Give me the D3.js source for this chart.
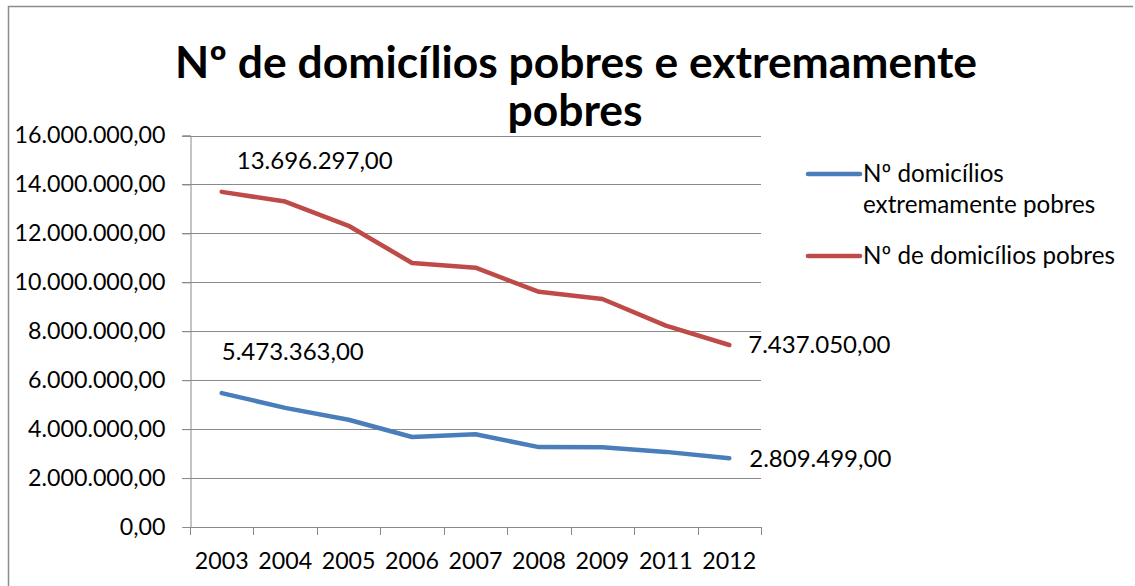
<!DOCTYPE html>
<html>
<head>
<meta charset="utf-8">
<script src="https://cdn.jsdelivr.net/npm/d3@7"></script>
<style>
  html, body { margin: 0; padding: 0; background: #fff; }
  text { font-family: Lato, "Open Sans", sans-serif; fill: #000; }
</style>
</head>
<body>
<svg id="chart" width="1135" height="586"></svg>
<script>
const years = ["2003", "2004", "2005", "2006", "2007", "2008", "2009", "2011", "2012"];
const extremos = [5473363, 4870000, 4385000, 3680000, 3790000, 3265000, 3260000, 3070000, 2809499];
const pobres = [13696297, 13300000, 12310000, 10790000, 10600000, 9610000, 9320000, 8230000, 7437050];
const yTicks = [0, 2000000, 4000000, 6000000, 8000000, 10000000, 12000000, 14000000, 16000000];
const seriesNames = ["Nº domicílios extremamente pobres", "Nº de domicílios pobres"];
const colors = ["#4A7EBB", "#BE4B48"];
const titleLines = ["Nº de domicílios pobres e extremamente", "pobres"];

const svg = d3.select("#chart");
const fmt = v => d3.formatLocale({decimal: ",", thousands: ".", grouping: [3], currency: ["", ""]}).format(",.2f")(v);

function fit(sel, target) {
  sel.each(function() {
    const fs = parseFloat(this.getAttribute("font-size"));
    const w = this.getComputedTextLength();
    if (w > 0) this.setAttribute("font-size", (fs * target / w).toFixed(2));
  });
}

// border
svg.append("path").attr("d", "M8.5,586 L8.5,6.5 L1133,6.5").attr("fill", "none").attr("stroke", "#8c8c8c").attr("stroke-width", 1.5);

const x = d3.scaleBand().domain(years).range([190, 761]);
const y = d3.scaleLinear().domain([0, 16000000]).range([527, 135.5]);

// gridlines
svg.append("g").selectAll("line").data(yTicks.slice(1)).join("line")
  .attr("x1", 182).attr("x2", 761)
  .attr("y1", d => Math.round(y(d)) + 0.5).attr("y2", d => Math.round(y(d)) + 0.5)
  .attr("stroke", "#8a8a8a").attr("stroke-width", 1);

// y axis
const yAxis = svg.append("g").attr("transform", "translate(190.5,0)")
  .call(d3.axisLeft(y).tickValues(yTicks).tickSize(8).tickPadding(17).tickFormat(fmt));
yAxis.select(".domain").attr("stroke", "#8a8a8a");
yAxis.selectAll(".tick line").attr("stroke", "#8a8a8a");
yAxis.selectAll(".tick text").attr("font-size", 20).attr("font-family", "Lato").attr("fill", "#000");

// x axis
const xAxis = svg.append("g").attr("transform", "translate(0,527.5)")
  .call(d3.axisBottom(x).tickSize(0).tickPadding(25));
xAxis.select(".domain").attr("stroke", "#8a8a8a").attr("d", "M190,0H761");
xAxis.selectAll(".tick text").attr("font-size", 20).attr("font-family", "Lato").attr("fill", "#000");
const bounds = years.map(d => x(d)).concat([x.range()[1]]);
svg.append("g").selectAll("line").data(bounds).join("line")
  .attr("x1", d => Math.round(d) + 0.5).attr("x2", d => Math.round(d) + 0.5)
  .attr("y1", 527).attr("y2", 535).attr("stroke", "#8a8a8a");

// lines
const cx = d => x(d) + x.bandwidth() / 2;
const line = d3.line().x((d, i) => cx(years[i])).y(d => y(d));
[extremos, pobres].forEach((s, k) => {
  svg.append("path").datum(s).attr("d", line).attr("fill", "none")
    .attr("stroke", colors[k]).attr("stroke-width", 4.5).attr("stroke-linecap", "round").attr("stroke-linejoin", "round");
});

// data labels
const labels = [
  {v: pobres[0], i: 0, dx: 15, dy: -23},
  {v: extremos[0], i: 0, dx: 0, dy: -33},
  {v: pobres[8], i: 8, dx: 19, dy: 8},
  {v: extremos[8], i: 8, dx: 20, dy: 9}
];
const dl = svg.append("g").selectAll("text").data(labels).join("text")
  .attr("x", d => cx(years[d.i]) + d.dx).attr("y", d => y(d.v) + d.dy)
  .attr("font-size", 20).text(d => fmt(d.v));
fit(dl.filter((d, i) => i === 0), 156);
dl.attr("font-size", dl.filter((d, i) => i === 0).attr("font-size"));

// legend
const leg = svg.append("g");
const legTexts = [];
[[174, 182, ["Nº domicílios", "extremamente pobres"]], [256, 264, ["Nº de domicílios pobres"]]].forEach((r, k) => {
  leg.append("line").attr("x1", 808).attr("x2", 860).attr("y1", r[0]).attr("y2", r[0])
    .attr("stroke", colors[k]).attr("stroke-width", 4.5).attr("stroke-linecap", "round");
  r[2].forEach((t, j) => {
    legTexts.push(leg.append("text").attr("x", 863).attr("y", r[1] + j * 31).attr("font-size", 20).text(t));
  });
});
fit(legTexts[2], 252);
legTexts.forEach(t => t.attr("font-size", legTexts[2].attr("font-size")));

// title
const t1 = svg.append("text").attr("x", 576).attr("y", 78).attr("text-anchor", "middle")
  .attr("font-size", 36).attr("font-weight", "bold").text(titleLines[0]);
fit(t1, 802);
const t2 = svg.append("text").attr("x", 575).attr("y", 126).attr("text-anchor", "middle")
  .attr("font-size", t1.attr("font-size")).attr("font-weight", "bold").text(titleLines[1]);

// fit tick labels to reference widths
const topTick = yAxis.selectAll(".tick text").filter(d => d === 16000000);
fit(topTick, 151);
const tickFs = topTick.attr("font-size");
yAxis.selectAll(".tick text").attr("font-size", tickFs);
xAxis.selectAll(".tick text").attr("font-size", tickFs);
</script>
</body>
</html>
